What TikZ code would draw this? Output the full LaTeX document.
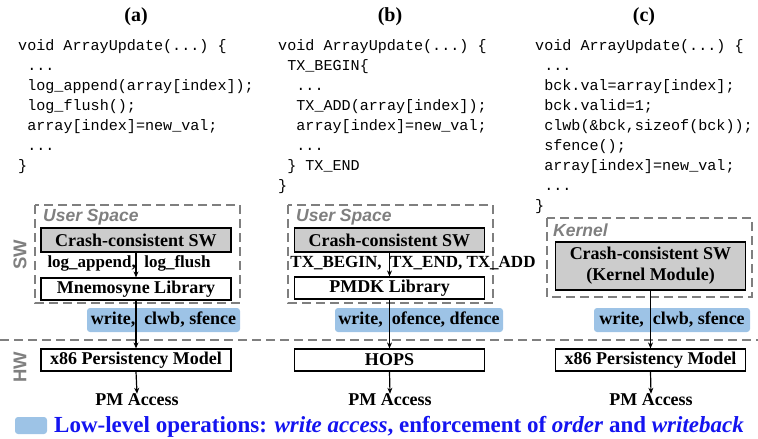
\documentclass[tikz,border=0pt]{standalone}
\usepackage{fontspec}
\setmainfont{Liberation Serif}
\setsansfont{Liberation Sans}
\setmonofont{Liberation Mono}
\usetikzlibrary{arrows.meta}

\definecolor{opblue}{HTML}{9DC3E6}
\definecolor{swgray}{HTML}{CCCCCC}
\definecolor{dashgray}{HTML}{7F7F7F}
\definecolor{legendblue}{HTML}{1414F0}

\newcommand\cw{9.1}% width of one code character
\newcommand\codeline[4]{\node[codetext] (#1) at (#2,#3) {#4};}

\tikzset{
  codetext/.style={anchor=base west, inner sep=0pt,
    font=\ttfamily\fontsize{15.1}{20}\selectfont},
  panellabel/.style={anchor=base, inner sep=0pt,
    font=\bfseries\fontsize{20}{22}\selectfont},
  swbox/.style={draw, line width=1.2pt, fill=swgray, minimum width=190pt,
    inner sep=0pt, font=\bfseries\fontsize{18}{21}\selectfont, align=center},
  libbox/.style={draw, line width=1.2pt, fill=white, minimum width=190pt,
    minimum height=22pt, inner sep=0pt, font=\bfseries\fontsize{18}{20}\selectfont},
  callabel/.style={inner sep=0pt, font=\bfseries\fontsize{17}{19}\selectfont},
  opbox/.style={fill=opblue, rounded corners=3pt, minimum height=24pt,
    inner sep=0pt, font=\bfseries\fontsize{18}{20}\selectfont},
  spacebox/.style={draw=dashgray, line width=2.4pt, dash pattern=on 9pt off 5pt},
  spacename/.style={anchor=base west, inner sep=0pt, text=dashgray,
    font=\sffamily\bfseries\itshape\fontsize{17.5}{20}\selectfont},
  layername/.style={inner sep=0pt, text=dashgray, rotate=90,
    font=\sffamily\bfseries\fontsize{18.5}{20}\selectfont},
  pmtext/.style={inner sep=0pt, font=\bfseries\fontsize{18}{20}\selectfont},
  flow/.style={line width=1.2pt, -{Stealth[length=6pt,width=5pt]}},
}

\begin{document}
\begin{tikzpicture}[x=1pt, y=-1pt]
\useasboundingbox (0,0) rectangle (758,439);

% ---------- panel titles ----------
\node[panellabel] (ta) at (136,21) {(a)};
\node[panellabel] (tb) at (390,21) {(b)};
\node[panellabel] (tc) at (644,21) {(c)};

% ---------- code: (a) logging library ----------
\codeline{a1}{18}{50}{void ArrayUpdate(...) \{}
\codeline{a2}{18+\cw}{70}{...}
\codeline{a3}{18+\cw}{90}{log\_append(array[index]);}
\codeline{a4}{18+\cw}{110}{log\_flush();}
\codeline{a5}{18+\cw}{130}{array[index]=new\_val;}
\codeline{a6}{18+\cw}{150}{...}
\codeline{a7}{18}{170}{\}}

% ---------- code: (b) transactions ----------
\codeline{b1}{278}{50}{void ArrayUpdate(...) \{}
\codeline{b2}{278+\cw}{70}{TX\_BEGIN\{}
\codeline{b3}{278+2*\cw}{90}{...}
\codeline{b4}{278+2*\cw}{110}{TX\_ADD(array[index]);}
\codeline{b5}{278+2*\cw}{130}{array[index]=new\_val;}
\codeline{b6}{278+2*\cw}{150}{...}
\codeline{b7}{278+\cw}{170}{\} TX\_END}
\codeline{b8}{278}{190}{\}}

% ---------- code: (c) kernel module ----------
\codeline{c1}{535}{50}{void ArrayUpdate(...) \{}
\codeline{c2}{535+\cw}{70}{...}
\codeline{c3}{535+\cw}{90}{bck.val=array[index];}
\codeline{c4}{535+\cw}{110}{bck.valid=1;}
\codeline{c5}{535+\cw}{130}{clwb(\&bck,sizeof(bck));}
\codeline{c6}{535+\cw}{150}{sfence();}
\codeline{c7}{535+\cw}{170}{array[index]=new\_val;}
\codeline{c8}{535+\cw}{190}{...}
\codeline{c9}{535}{210}{\}}

% ---------- software / hardware split ----------
\coordinate (splitL) at (0,340);
\coordinate (splitR) at (758,340);
\draw[spacebox] (splitL) -- (splitR);
\node[layername] (sw) at (20,255) {SW};
\node[layername] (hw) at (20,367) {HW};

% ---------- privilege domains ----------
\draw[spacebox] (35,205) rectangle (240,303);
\node[spacename] (usa) at (43,221) {User Space};
\draw[spacebox] (288,205) rectangle (493,303);
\node[spacename] (usb) at (296,221) {User Space};
\draw[spacebox] (547,218) rectangle (752,297);
\node[spacename] (kc) at (553,236) {Kernel};

% ---------- (a) stack ----------
\node[swbox, minimum height=24pt] (swa) at (136,240) {Crash-consistent SW};
\node[libbox] (liba) at (136,289) {Mnemosyne Library};
\node[callabel] (calla) at (129,263) {log\_append,\ \ log\_flush};
\node[opbox, minimum width=153pt] (opa) at (163.5,320) {write,\ \ clwb, sfence};
\node[libbox] (hwa) at (136,360) {x86 Persistency Model};
\node[pmtext] (pma) at (137,400) {PM Access};
\draw[flow] (swa.south) -- (liba.north);
\draw[flow] (liba.south) -- (hwa.north);
\draw[flow] (hwa.south) -- (pma.north);

% ---------- (b) stack ----------
\node[swbox, minimum height=24pt] (swb) at (389.5,240) {Crash-consistent SW};
\node[libbox] (libb) at (389.5,288) {PMDK Library};
\node[callabel] (callb) at (413,263) {TX\_BEGIN,\ \ TX\_END, TX\_ADD};
\node[opbox, minimum width=168pt] (opb) at (419,320) {write,\ \ ofence, dfence};
\node[libbox] (hwb) at (389.5,360) {HOPS};
\node[pmtext] (pmb) at (390,400) {PM Access};
\draw[flow] (swb.south) -- (libb.north);
\draw[flow] (libb.south) -- (hwb.north);
\draw[flow] (hwb.south) -- (pmb.north);

% ---------- (c) stack ----------
\node[swbox, minimum height=48pt] (swc) at (650.5,266)
  {Crash-consistent SW\\(Kernel Module)};
\node[opbox, minimum width=156pt] (opc) at (672,320) {write,\ \ clwb, sfence};
\node[libbox] (hwc) at (650.5,360) {x86 Persistency Model};
\node[pmtext] (pmc) at (651,400) {PM Access};
\draw[flow] (swc.south) -- (hwc.north);
\draw[flow] (hwc.south) -- (pmc.north);

% ---------- legend ----------
\node[fill=opblue, rounded corners=3pt, minimum width=32pt, minimum height=17pt,
  inner sep=0pt] (legkey) at (31,425.5) {};
\node[anchor=base west, inner sep=0pt, text=legendblue,
  font=\bfseries\fontsize{23}{25}\selectfont] (legtext) at (54,432.5)
  {Low-level operations: \textit{write access}, enforcement of \textit{order} and \textit{writeback}};
\end{tikzpicture}
\end{document}
